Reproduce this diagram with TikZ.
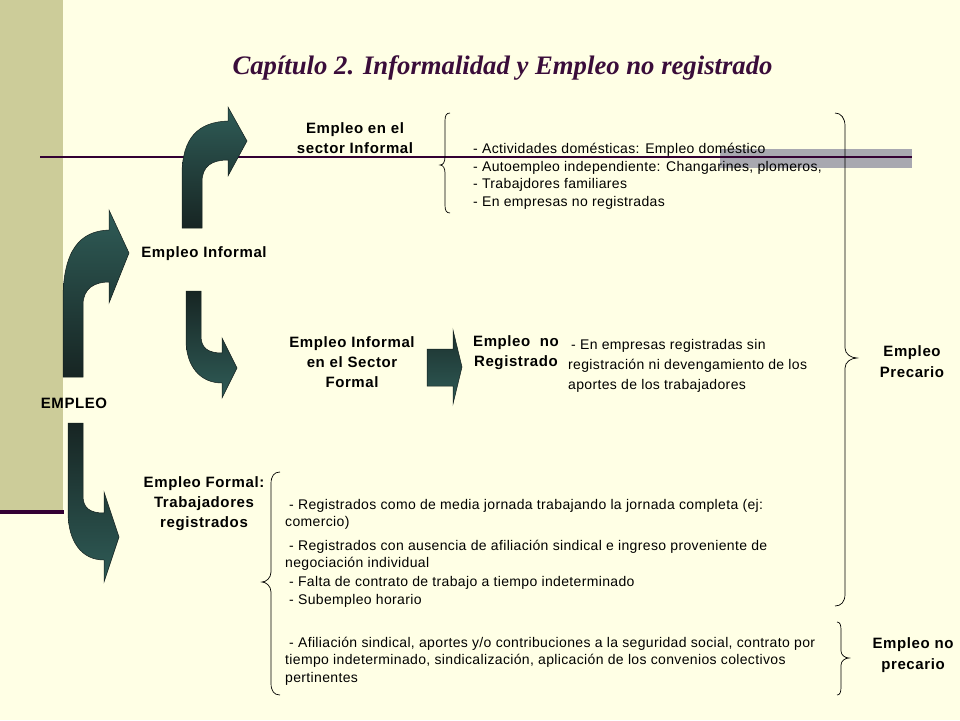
\documentclass[tikz,border=0pt]{standalone}
\usepackage{fontspec}
\setmainfont{Liberation Sans}
\newfontfamily\titlefont{Liberation Serif}
\newfontfamily\lblfont[LetterSpace=4]{Liberation Sans}
\newfontfamily\txtfont[LetterSpace=2.5]{Liberation Sans}
\newcommand\lblstrut{\rule{0pt}{14pt}}
\newcommand\txtstrut{\rule{0pt}{12.5pt}}
\definecolor{bgcol}{HTML}{FFFFE5}
\definecolor{bandcol}{HTML}{CCCC99}
\definecolor{purp}{HTML}{330033}
\definecolor{titlecol}{HTML}{3A0D3A}
\definecolor{graybar}{HTML}{A8A8B0}
\definecolor{teal}{HTML}{2F5C57}
\definecolor{darkteal}{HTML}{172523}
\definecolor{arrowedge}{HTML}{14201E}
\tikzset{
  arrowshape/.style={draw=arrowedge, line width=0.5pt},
  upgrad/.style={arrowshape, top color=teal, bottom color=darkteal},
  downgrad/.style={arrowshape, top color=darkteal, bottom color=teal},
  bracestyle/.style={draw=black, line width=0.7pt},
  lbl/.style={font={\lblfont\bfseries\fontsize{15}{20}\selectfont}, align=center, inner sep=0pt, anchor=north},
  lblone/.style={font={\lblfont\bfseries\fontsize{15}{20}\selectfont}, inner sep=0pt, anchor=base},
  txt/.style={font={\txtfont\fontsize{14}{17.6}\selectfont}, align=left, inner sep=0pt, anchor=north west},
  txtb/.style={font={\txtfont\fontsize{14}{20}\selectfont}, align=left, inner sep=0pt, anchor=north west},
}
\begin{document}
\begin{tikzpicture}[x=1pt,y=-1pt]
\useasboundingbox (0,0) rectangle (960,720);
\fill[bgcol] (0,0) rectangle (960,720);
% left band
\fill[bandcol] (0,0) rectangle (63,511);
\fill[purp] (0,510) rectangle (64,514);
% gray bar and line
\fill[graybar] (720,149) rectangle (912,168);
\coordinate (lineL) at (40,157);
\coordinate (lineR) at (912,157);
\draw[purp, line width=2pt] (lineL) -- (lineR);

% title
\node[font={\titlefont\bfseries\itshape\fontsize{26.7}{30}\selectfont}, text=titlecol, anchor=base, inner sep=0pt] (title) at (502.5,74) {Capítulo 2. Informalidad y Empleo no registrado};

% arrows
\path[upgrad] (63,377) -- (63,300) .. controls (63,250) and (80,231) .. (109,230) -- (109,210) -- (129,253) -- (109,303) -- (109,282) .. controls (95,282) and (83,288) .. (83,305) -- (83,377) -- cycle;
\path[upgrad] (182,228) -- (182,175) .. controls (182,138) and (198,122) .. (228,121) -- (228,107) -- (247,141) -- (228,176) -- (228,160) .. controls (212,160) and (202,166) .. (202,182) -- (202,228) -- cycle;
\path[downgrad] (186,291) -- (201,291) -- (201,336) .. controls (201,348) and (208,353) .. (222,353) -- (222,338) -- (237,368) -- (222,398) -- (222,383) .. controls (200,383) and (186,366) .. (186,340) -- cycle;
\path[downgrad] (68,423) -- (83,423) -- (83,496) .. controls (83,508) and (90,513) .. (104,513) -- (104,492) -- (119,537) -- (104,582) -- (104,560) .. controls (82,560) and (68,542) .. (68,512) -- cycle;
\path[arrowshape, top color=darkteal!80!teal, bottom color=teal] (427,349) -- (453,349) -- (453,330) -- (462,367) -- (453,404) -- (453,386) -- (427,386) -- cycle;

% braces
\draw[bracestyle] (450,113) .. controls (446,113) and (445,116) .. (445,121) -- (445,157) .. controls (445,162) and (443,165) .. (440,165) .. controls (443,165) and (445,168) .. (445,173) -- (445,205) .. controls (445,210) and (446,213) .. (450,213);
\draw[bracestyle] (280,472) .. controls (274,472) and (271,476) .. (271,484) -- (271,572) .. controls (271,578) and (266,582) .. (262,582) .. controls (266,582) and (271,586) .. (271,592) -- (271,683) .. controls (271,691) and (274,695) .. (280,695);
\draw[bracestyle] (835,113) .. controls (841,113) and (845,118) .. (845,126) -- (845,348) .. controls (845,354) and (851,358) .. (857,358) .. controls (851,358) and (845,362) .. (845,368) -- (845,594) .. controls (845,602) and (841,606) .. (835,606);
\draw[bracestyle] (837,622) .. controls (840,622) and (841,625) .. (841,630) -- (841,651) .. controls (841,655) and (845,658) .. (849,658) .. controls (845,658) and (841,661) .. (841,665) -- (841,687) .. controls (841,692) and (840,695) .. (837,695);

% bold labels
\node[lbl] (sectinf) at (355,119) {\lblstrut Empleo en el\\sector Informal};
\node[lblone] (empinf) at (204,257) {Empleo Informal};
\node[lblone] (empleo) at (74,408) {EMPLEO};
\node[lbl] (infform) at (352,333) {\lblstrut Empleo Informal\\en el Sector\\Formal};
\node[lbl] (noreg) at (516,332) {\lblstrut Empleo\ \ no\\Registrado};
\node[lbl] (formal) at (204,473) {\lblstrut Empleo Formal:\\Trabajadores\\registrados};
\node[lbl] (precario) at (912,342) {\lblstrut Empleo\\[1pt]Precario};
\node[lbl] (noprec) at (913,634) {\lblstrut Empleo no\\[1pt]precario};

% regular texts
\node[txt] (infitems) at (473,141) {\txtstrut- Actividades domésticas: Empleo doméstico\\- Autoempleo independiente: Changarines, plomeros,\\- Trabajdores familiares\\- En empresas no registradas};
\node[txtb] (noregitems) at (568,335) {\lblstrut\hspace*{3pt}- En empresas registradas sin\\registración ni devengamiento de los\\aportes de los trabajadores};
\node[txt] (fa) at (285,496.5) {\txtstrut\hspace*{4pt}- Registrados como de media jornada trabajando la jornada completa (ej:\\comercio)};
\node[txt] (fb) at (285,537.5) {\txtstrut\hspace*{4pt}- Registrados con ausencia de afiliación sindical e ingreso proveniente de\\negociación individual};
\node[txt] (fc) at (285,574) {\txtstrut\hspace*{4pt}- Falta de contrato de trabajo a tiempo indeterminado};
\node[txt] (fd) at (285,591.5) {\txtstrut\hspace*{4pt}- Subempleo horario};
\node[txt] (fe) at (285,634.5) {\txtstrut\hspace*{4pt}- Afiliación sindical, aportes y/o contribuciones a la seguridad social, contrato por\\tiempo indeterminado, sindicalización, aplicación de los convenios colectivos\\pertinentes};
\end{tikzpicture}
\end{document}
